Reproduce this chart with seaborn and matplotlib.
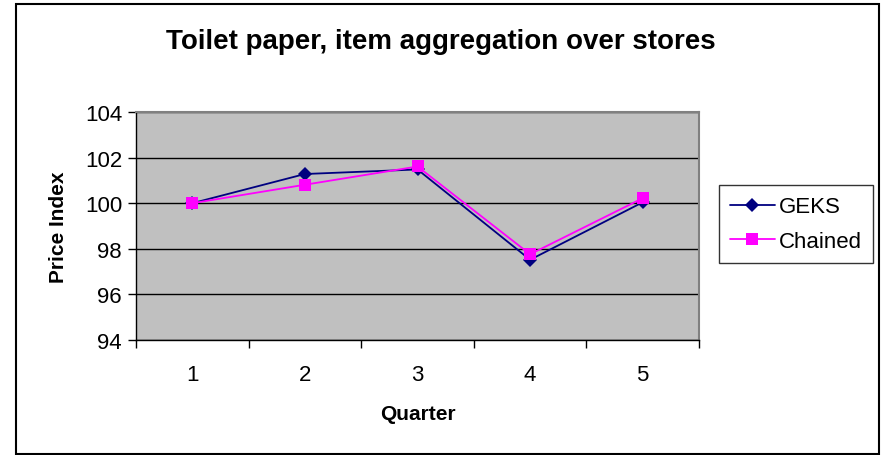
import matplotlib
matplotlib.use("Agg")
import matplotlib.pyplot as plt
import seaborn as sns
import pandas as pd
from matplotlib.patches import Rectangle

quarters = [1, 2, 3, 4, 5]
geks = [100.0, 101.28, 101.48, 97.52, 100.04]
chained = [100.0, 100.81, 101.61, 97.76, 100.22]
series_names = ["GEKS", "Chained"]
y_ticks = [94, 96, 98, 100, 102, 104]

df = pd.DataFrame({
    "Quarter": quarters * 2,
    "Price Index": geks + chained,
    "Series": [series_names[0]] * len(quarters) + [series_names[1]] * len(quarters),
})

sns.set_style("white")
plt.rcParams["font.family"] = ["Liberation Sans", "DejaVu Sans"]
plt.rcParams["text.color"] = "black"
plt.rcParams["axes.labelcolor"] = "black"
plt.rcParams["xtick.color"] = "black"
plt.rcParams["ytick.color"] = "black"

fig = plt.figure(figsize=(8.81, 4.56), dpi=100)
ax = fig.add_axes([136 / 881, 1 - 341 / 456, (699 - 136) / 881, (341 - 113) / 456])
ax.set_facecolor("#C0C0C0")

sns.lineplot(
    data=df, x="Quarter", y="Price Index", hue="Series", style="Series",
    palette={"GEKS": "#000080", "Chained": "#FF00FF"},
    markers={"GEKS": "D", "Chained": "s"}, dashes=False,
    markersize=8, linewidth=1.3, markeredgewidth=0, ax=ax, zorder=3,
)
for line in ax.get_lines():
    if line.get_marker() == "D":
        line.set_markersize(7.5)

ax.set_ylim(94, 104)
ax.set_yticks(y_ticks)
ax.set_yticklabels([str(v) for v in y_ticks], fontsize=16)
ax.yaxis.grid(True, color="black", linewidth=1)
ax.set_axisbelow(True)

ax.set_xlim(0.5, 5.5)
ax.set_xticks([0.5, 1.5, 2.5, 3.5, 4.5, 5.5])
ax.set_xticklabels([])
ax.set_xticks(quarters, minor=True)
ax.set_xticklabels([str(q) for q in quarters], minor=True, fontsize=16)
ax.tick_params(axis="x", which="minor", length=0, pad=17)
ax.tick_params(axis="x", which="major", direction="out", length=6, width=1, color="black", bottom=True)
ax.tick_params(axis="y", direction="out", length=6, width=1, color="black", left=True, pad=4)

for side in ["left", "bottom"]:
    ax.spines[side].set_color("black")
    ax.spines[side].set_linewidth(1)
for side in ["top", "right"]:
    ax.spines[side].set_color("#808080")
    ax.spines[side].set_linewidth(1.5)

ax.set_xlabel("Quarter", fontsize=15, fontweight="bold", labelpad=14)
ax.set_ylabel("Price Index", fontsize=15, fontweight="bold", labelpad=12)

fig.text(0.5, 1 - 42 / 456, "Toilet paper, item aggregation over stores",
         ha="center", va="center", fontsize=20, fontweight="bold")

handles, labels = ax.get_legend_handles_labels()
leg = ax.legend(handles, labels, loc="center left",
                bbox_to_anchor=(719 / 881, 1 - 225 / 456), bbox_transform=fig.transFigure,
                fontsize=16, frameon=True, fancybox=False, edgecolor="black",
                handlelength=2.0, borderaxespad=0, borderpad=0.5, labelspacing=0.6,
                handletextpad=0.18)
leg.get_frame().set_linewidth(1)

fig.patches.append(Rectangle((16 / 881, 1 / 456), (879 - 16) / 881, (451 - 1) / 456,
                             transform=fig.transFigure, fill=False,
                             edgecolor="black", linewidth=1.5))

fig.savefig("out.png", dpi=100)
